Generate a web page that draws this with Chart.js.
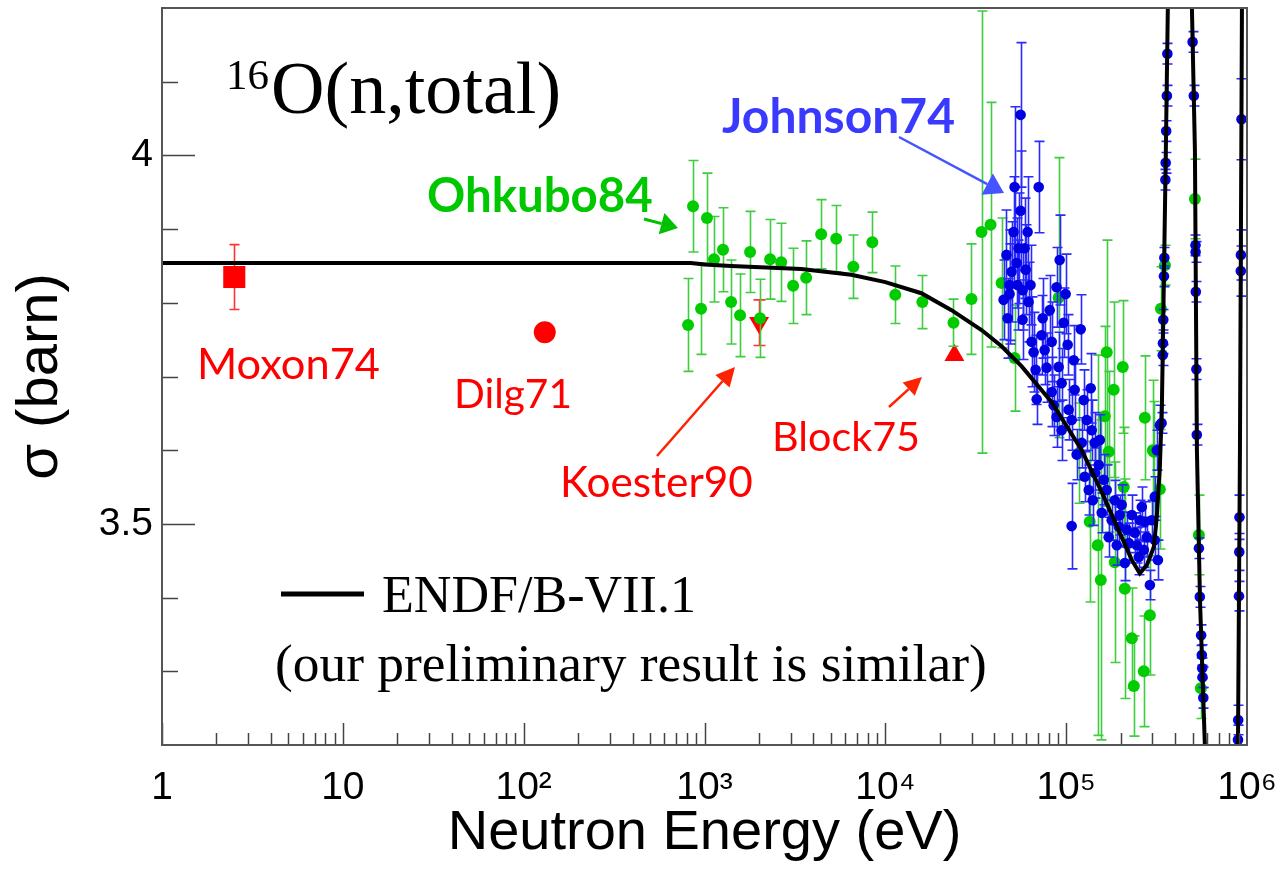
<!DOCTYPE html>
<html>
<head>
<meta charset="utf-8">
<title>16O(n,total)</title>
<script src="https://cdn.jsdelivr.net/npm/chart.js@4.4.1/dist/chart.umd.min.js"></script>
<style>
    html, body { margin: 0; padding: 0; background: #fff; }
    #wrap { width: 1278px; height: 875px; }
</style>
</head>
<body>
<div id="wrap"><canvas id="sigmaChart" width="1278" height="875"></canvas></div>
<script>
// axis ticks
const xTickValues = [1, 10, 100, 1000, 10000, 100000, 1000000];
const xTickLabels = ['1', '10', '10\u00b2', '10\u00b3', '10\u2074', '10\u2075', '10\u2076'];
const yTickValues = [3.5, 4];
const yTickLabels = ['3.5', '4'];

// ENDF/B-VII.1 evaluation
const endfEnergy = [1, 841, 1000, 1403, 3428, 6486, 10000, 15820, 23220, 34040, 43950, 56620, 83180,
    121900, 157300, 202800, 230700, 255300, 279300, 305500, 317000, 329600, 338100, 346800, 355800,
    364900, 425700, 495900, 515200, 528500, 549500, 584800, 726600, 891300, 914100, 937600, 1200000];
const endfSigma = [3.854, 3.854, 3.852, 3.850, 3.846, 3.838, 3.828, 3.813, 3.790, 3.763, 3.741, 3.714, 3.665,
    3.600, 3.543, 3.482, 3.451, 3.433, 3.444, 3.469, 3.509, 3.577, 3.655, 3.827, 4.007,
    4.200, 8.0, 4.200, 4.007, 3.600, 3.397, 3.200, 2.0, 3.200, 3.600, 4.200, 8.0];

// Ohkubo84
const ohkuboEnergy = [811, 864, 957, 1032, 1129, 1266, 1403, 1573, 1786, 2029, 2306, 2655, 3092, 3648,
    4418, 5352, 6653, 8472, 11350, 16030, 23820, 29950, 34040, 38190, 43950, 51850, 90860,
    117300, 135000, 149500, 155400, 163400, 167600, 171900, 183200, 185700, 205600, 208400, 211000,
    230700, 236600, 268700, 272300, 290400, 301400, 305500, 329600, 334200, 351600, 515200, 542000, 556000];
const ohkuboSigma = [3.770, 3.931, 3.792, 3.915, 3.859, 3.872, 3.801, 3.783, 3.869, 3.779, 3.859, 3.855, 3.823, 3.834,
    3.893, 3.887, 3.849, 3.882, 3.811, 3.801, 3.773, 3.805, 3.896, 3.906, 3.827, 3.725, 3.807,
    3.596, 3.503, 3.471, 3.424, 3.646, 3.733, 3.598, 3.682, 3.448, 3.713, 3.550, 3.412,
    3.345, 3.280, 3.300, 3.644, 3.376, 3.600, 3.598, 3.547, 3.792, 3.851, 3.941, 3.485, 3.277];
const ohkuboError = [0.063, 0.062, 0.062, 0.061, 0.058, 0.057, 0.057, 0.056, 0.055, 0.053, 0.054, 0.053, 0.051, 0.050,
    0.047, 0.045, 0.043, 0.041, 0.039, 0.036, 0.032, 0.075, 0.300, 0.166, 0.088, 0.072, 0.190,
    0.068, 0.109, 0.258, 0.217, 0.122, 0.152, 0.109, 0.119, 0.136, 0.090, 0.081, 0.149,
    0.068, 0.068, 0.075, 0.084, 0.081, 0.095, 0.068, 0.081, 0.057, 0.027, 0.054, 0.054, 0.041];

// Johnson74
const johnsonEnergy = [55980, 51850, 70490, 55980, 61200, 54550, 58900, 49900, 53190, 48660, 48660, 53840,
    92040, 88500, 99310, 96830, 61960, 74130, 64380, 73140, 83180, 66070, 68710, 120300, 136700,
    94410, 110100, 90860, 111400, 125000, 88500, 94410, 103200, 143900, 83180, 107200, 107200,
    121900, 151400, 133300, 157300, 171900, 195500, 222100, 239700, 262000, 279300, 211000, 290400,
    309000, 252200, 309000, 317000, 329600, 143900, 185700, 126600, 77980, 45080, 138400, 167600,
    178600, 202800, 230700, 245900, 272300, 46770, 57410,
    47420, 51170, 57410, 59700, 63530, 67760, 76030, 81100, 85300, 101900, 114300, 129900,
    140300, 153500, 161400, 190500, 197800, 216400, 255300, 268700, 297600, 321500,
    362800, 360500, 357300, 355000, 353700, 349200, 347400, 344400, 343000, 342100, 336900,
    500300, 507900, 519000, 519700, 521000, 525000, 527700, 542100, 548400, 557600, 562500, 565400, 567500, 573400,
    932300, 925200, 924100, 908800, 906500, 903100, 894000, 891600];
const johnsonSigma = [4.055, 3.957, 3.957, 3.925, 3.896, 3.874, 3.874, 3.842, 3.854, 3.824, 3.812, 3.824,
    3.858, 3.821, 3.812, 3.773, 3.801, 3.779, 3.747, 3.756, 3.747, 3.733, 3.669, 3.764, 3.684,
    3.691, 3.722, 3.713, 3.682, 3.668, 3.645, 3.627, 3.655, 3.610, 3.679, 3.497, 3.641,
    3.610, 3.580, 3.546, 3.515, 3.482, 3.496, 3.474, 3.488, 3.523, 3.482, 3.447, 3.417,
    3.478, 3.455, 3.537, 3.600, 3.634, 3.569, 3.532, 3.564, 3.712, 3.804, 3.627, 3.546,
    3.505, 3.526, 3.512, 3.471, 3.503, 3.865, 3.817,
    3.779, 3.896, 3.777, 3.845, 3.824, 3.709, 3.736, 3.790, 3.661, 3.743, 3.594, 3.641,
    3.532, 3.614, 3.560, 3.471, 3.512, 3.492, 3.505, 3.465, 3.505, 3.451,
    4.138, 4.081, 4.033, 3.990, 3.967, 3.861, 3.836, 3.777, 3.745, 3.729, 3.637,
    4.154, 4.081, 3.878, 3.869, 3.815, 3.710, 3.621, 3.467, 3.401, 3.349, 3.322, 3.304, 3.292, 3.264,
    4.049, 3.865, 3.843, 3.509, 3.462, 3.402, 3.234, 3.207];
const johnsonError = [0.098, 0.109, 0.062, 0.081, 0.075, 0.075, 0.068, 0.068, 0.061, 0.075, 0.068, 0.061,
    0.061, 0.054, 0.054, 0.047, 0.054, 0.054, 0.061, 0.054, 0.054, 0.054, 0.034, 0.047, 0.047,
    0.047, 0.047, 0.047, 0.041, 0.041, 0.041, 0.041, 0.041, 0.041, 0.047, 0.058, 0.041,
    0.034, 0.034, 0.034, 0.027, 0.027, 0.027, 0.027, 0.027, 0.027, 0.027, 0.024, 0.020,
    0.027, 0.024, 0.027, 0.027, 0.027, 0.034, 0.027, 0.034, 0.047, 0.054, 0.041, 0.034,
    0.027, 0.027, 0.027, 0.024, 0.027, 0.061, 0.054,
    0.054, 0.075, 0.054, 0.061, 0.054, 0.047, 0.047, 0.047, 0.041, 0.041, 0.034, 0.041,
    0.034, 0.034, 0.034, 0.027, 0.027, 0.024, 0.027, 0.024, 0.027, 0.027,
    0.014, 0.014, 0.014, 0.014, 0.014, 0.014, 0.014, 0.014, 0.014, 0.014, 0.014,
    0.014, 0.014, 0.014, 0.014, 0.014, 0.014, 0.014, 0.014, 0.014, 0.014, 0.014, 0.014, 0.014, 0.014,
    0.055, 0.034, 0.034, 0.030, 0.025, 0.020, 0.020, 0.020];

// single measurements
const moxonEnergy = [2.51];
const moxonSigma = [3.835];
const moxonError = [0.044];
const dilgEnergy = [130.8];
const dilgSigma = [3.760];
const koesterEnergy = [2004];
const koesterSigma = [3.773];
const koesterError = [0.031];
const blockEnergy = [24100];
const blockSigma = [3.729];

function toPoints(xs, ys) {
    return xs.map((v, i) => ({ x: v, y: ys[i] }));
}

// error bars drawn just before each dataset
const errorBars = {
    id: 'errorBars',
    beforeDatasetDraw(chart, args) {
        const ds = chart.data.datasets[args.index];
        if (!ds.errors) return;
        const ctx = chart.ctx;
        const a = chart.chartArea;
        const xs = chart.scales.x, ys = chart.scales.y;
        ctx.save();
        ctx.beginPath();
        ctx.rect(a.left, a.top, a.right - a.left, a.bottom - a.top);
        ctx.clip();
        ctx.strokeStyle = ds.errorColor;
        ctx.lineWidth = 1.6;
        ds.data.forEach((p, i) => {
            const px = Math.round(xs.getPixelForValue(p.x)) + 0.5;
            const top = ys.getPixelForValue(p.y + ds.errors[i]);
            const bot = ys.getPixelForValue(p.y - ds.errors[i]);
            const c = ds.capHalf;
            ctx.beginPath();
            ctx.moveTo(px, top); ctx.lineTo(px, bot);
            ctx.moveTo(px - c, top); ctx.lineTo(px + c, top);
            ctx.moveTo(px - c, bot); ctx.lineTo(px + c, bot);
            ctx.stroke();
        });
        ctx.restore();
    }
};

// frame and inward ticks
const frameTicks = {
    id: 'frameTicks',
    afterDraw(chart) {
        const ctx = chart.ctx;
        const a = chart.chartArea;
        const xs = chart.scales.x, ys = chart.scales.y;
        ctx.save();
        ctx.strokeStyle = '#444';
        ctx.lineWidth = 1.5;
        ctx.beginPath();
        for (let k = 0; k < 6; k++) {
            for (let m = 1; m < 10; m++) {
                const px = Math.round(xs.getPixelForValue(m * Math.pow(10, k))) + 0.5;
                const len = m === 1 ? 22 : 12;
                ctx.moveTo(px, a.bottom);
                ctx.lineTo(px, a.bottom - len);
            }
        }
        for (let i = 1; i < 10; i++) {
            const v = 3.2 + i * 0.1;
            const py = Math.round(ys.getPixelForValue(v)) + 0.5;
            const major = Math.abs(v - 3.5) < 1e-6 || Math.abs(v - 4) < 1e-6;
            ctx.moveTo(a.left, py);
            ctx.lineTo(a.left + (major ? 33 : 16), py);
        }
        ctx.stroke();
        ctx.strokeStyle = '#555';
        ctx.lineWidth = 2;
        ctx.strokeRect(a.left, a.top, a.right - a.left, a.bottom - a.top);
        ctx.restore();
    }
};

function fitText(ctx, text, x, y, width, font, color) {
    ctx.font = font.replace('{s}', '100');
    const size = 100 * width / ctx.measureText(text).width;
    ctx.font = font.replace('{s}', size.toFixed(1));
    ctx.fillStyle = color;
    ctx.fillText(text, x, y);
}

function arrow(ctx, x1, y1, x2, y2, color, lw, hl, hw) {
    const ang = Math.atan2(y2 - y1, x2 - x1);
    const bx = x2 - hl * Math.cos(ang), by = y2 - hl * Math.sin(ang);
    ctx.strokeStyle = color;
    ctx.lineWidth = lw;
    ctx.beginPath();
    ctx.moveTo(x1, y1);
    ctx.lineTo(bx, by);
    ctx.stroke();
    ctx.fillStyle = color;
    ctx.beginPath();
    ctx.moveTo(x2, y2);
    ctx.lineTo(bx + hw / 2 * Math.sin(ang), by - hw / 2 * Math.cos(ang));
    ctx.lineTo(bx - hw / 2 * Math.sin(ang), by + hw / 2 * Math.cos(ang));
    ctx.closePath();
    ctx.fill();
}

// labels, arrows, title and legend
const annotations = {
    id: 'annotations',
    afterDraw(chart) {
        const ctx = chart.ctx;
        ctx.save();
        ctx.textAlign = 'left';
        ctx.textBaseline = 'alphabetic';
        const serif = '{s}px "Liberation Serif", "Times New Roman", serif';
        const sans = '{s}px Lato, "Open Sans", sans-serif';
        const sansBold = 'bold {s}px Lato, "Open Sans", sans-serif';

        ctx.font = '43px "Liberation Serif", serif';
        ctx.fillStyle = '#000';
        ctx.fillText('16', 226, 89);
        fitText(ctx, 'O(n,total)', 271, 113, 290, serif, '#000');

        fitText(ctx, 'Ohkubo84', 427, 212, 226, sansBold, '#00c800');
        fitText(ctx, 'Johnson74', 722, 133, 233, sansBold, '#3a3aff');
        fitText(ctx, 'Moxon74', 197, 379, 183, sans, '#ff0000');
        fitText(ctx, 'Dilg71', 454, 408, 118, sans, '#ff0000');
        fitText(ctx, 'Koester90', 560, 497, 193, sans, '#ff0000');
        fitText(ctx, 'Block75', 772, 451, 148, sans, '#ff0000');

        arrow(ctx, 644, 219, 678, 228, '#00c000', 3, 17, 22);
        arrow(ctx, 899, 137, 1004, 193, '#4455ff', 2.5, 19, 24);
        arrow(ctx, 657, 456, 735, 367, '#ff2200', 2.5, 19, 19);
        arrow(ctx, 889, 407, 922, 377, '#ff2200', 2.5, 18, 18);

        ctx.strokeStyle = '#000';
        ctx.lineWidth = 5;
        ctx.beginPath();
        ctx.moveTo(281, 594);
        ctx.lineTo(364, 594);
        ctx.stroke();
        fitText(ctx, 'ENDF/B-VII.1', 382, 612, 314, serif, '#000');
        fitText(ctx, '(our preliminary result is similar)', 275, 681, 712, serif, '#000');
        ctx.restore();
    }
};

const sigmaChart = new Chart(document.getElementById('sigmaChart').getContext('2d'), {
    type: 'scatter',
    data: {
        datasets: [{
            label: 'ENDF/B-VII.1',
            data: toPoints(endfEnergy, endfSigma),
            showLine: true,
            borderColor: '#000',
            borderWidth: 4,
            pointRadius: 0,
            tension: 0
        }, {
            label: 'Johnson74',
            data: toPoints(johnsonEnergy, johnsonSigma),
            errors: johnsonError,
            errorColor: '#2a2aff',
            capHalf: 5,
            pointRadius: 5.3,
            pointBackgroundColor: '#0000e0',
            pointBorderWidth: 0
        }, {
            label: 'Ohkubo84',
            data: toPoints(ohkuboEnergy, ohkuboSigma),
            errors: ohkuboError,
            errorColor: '#3fcc3f',
            capHalf: 5,
            pointRadius: 6,
            pointBackgroundColor: '#00cc00',
            pointBorderWidth: 0
        }, {
            label: 'Koester90',
            data: toPoints(koesterEnergy, koesterSigma),
            errors: koesterError,
            errorColor: '#ff3333',
            capHalf: 6,
            pointStyle: 'triangle',
            pointRotation: 180,
            pointRadius: 11.5,
            pointBackgroundColor: '#ff0000',
            pointBorderWidth: 0
        }, {
            label: 'Block75',
            data: toPoints(blockEnergy, blockSigma),
            pointStyle: 'triangle',
            pointRadius: 11.5,
            pointBackgroundColor: '#ff0000',
            pointBorderWidth: 0
        }, {
            label: 'Dilg71',
            data: toPoints(dilgEnergy, dilgSigma),
            pointRadius: 11,
            pointBackgroundColor: '#ff0000',
            pointBorderWidth: 0
        }, {
            label: 'Moxon74',
            data: toPoints(moxonEnergy, moxonSigma),
            errors: moxonError,
            errorColor: '#ff3333',
            capHalf: 5,
            pointStyle: 'rect',
            pointRadius: 15.6,
            pointBackgroundColor: '#ff0000',
            pointBorderWidth: 0
        }]
    },
    options: {
        responsive: false,
        animation: false,
        events: [],
        layout: {
            autoPadding: false,
            padding: { left: 0, top: 8, right: 31, bottom: 0 }
        },
        plugins: {
            legend: { display: false },
            tooltip: { enabled: false }
        },
        scales: {
            x: {
                type: 'logarithmic',
                min: 1,
                max: 1000000,
                grid: { display: false, drawTicks: false },
                border: { display: false },
                afterBuildTicks: axis => { axis.ticks = xTickValues.map(v => ({ value: v })); },
                afterFit: s => { s.height = 130; s.paddingLeft = 0; s.paddingRight = 0; },
                ticks: {
                    autoSkip: false,
                    maxRotation: 0,
                    minRotation: 0,
                    padding: 20,
                    color: '#000',
                    font: { family: 'Liberation Sans', size: 39 },
                    callback: (v, i) => xTickLabels[i]
                },
                title: {
                    display: true,
                    text: 'Neutron Energy (eV)',
                    color: '#000',
                    font: { family: 'Liberation Sans', size: 56 },
                    padding: { top: 0, bottom: 8 }
                }
            },
            y: {
                type: 'linear',
                min: 3.2,
                max: 4.2,
                grid: { display: false, drawTicks: false },
                border: { display: false },
                afterBuildTicks: axis => { axis.ticks = yTickValues.map(v => ({ value: v })); },
                afterFit: s => { s.width = 162; s.paddingTop = 0; s.paddingBottom = 0; },
                ticks: {
                    padding: 9,
                    color: '#000',
                    font: { family: 'Liberation Sans', size: 39 },
                    callback: (v, i) => yTickLabels[i]
                },
                title: {
                    display: true,
                    text: '\u03c3 (barn)',
                    color: '#000',
                    font: { family: 'Liberation Sans', size: 58 },
                    padding: { top: 6, bottom: 0 }
                }
            }
        }
    },
    plugins: [errorBars, frameTicks, annotations]
});
</script>
</body>
</html>
